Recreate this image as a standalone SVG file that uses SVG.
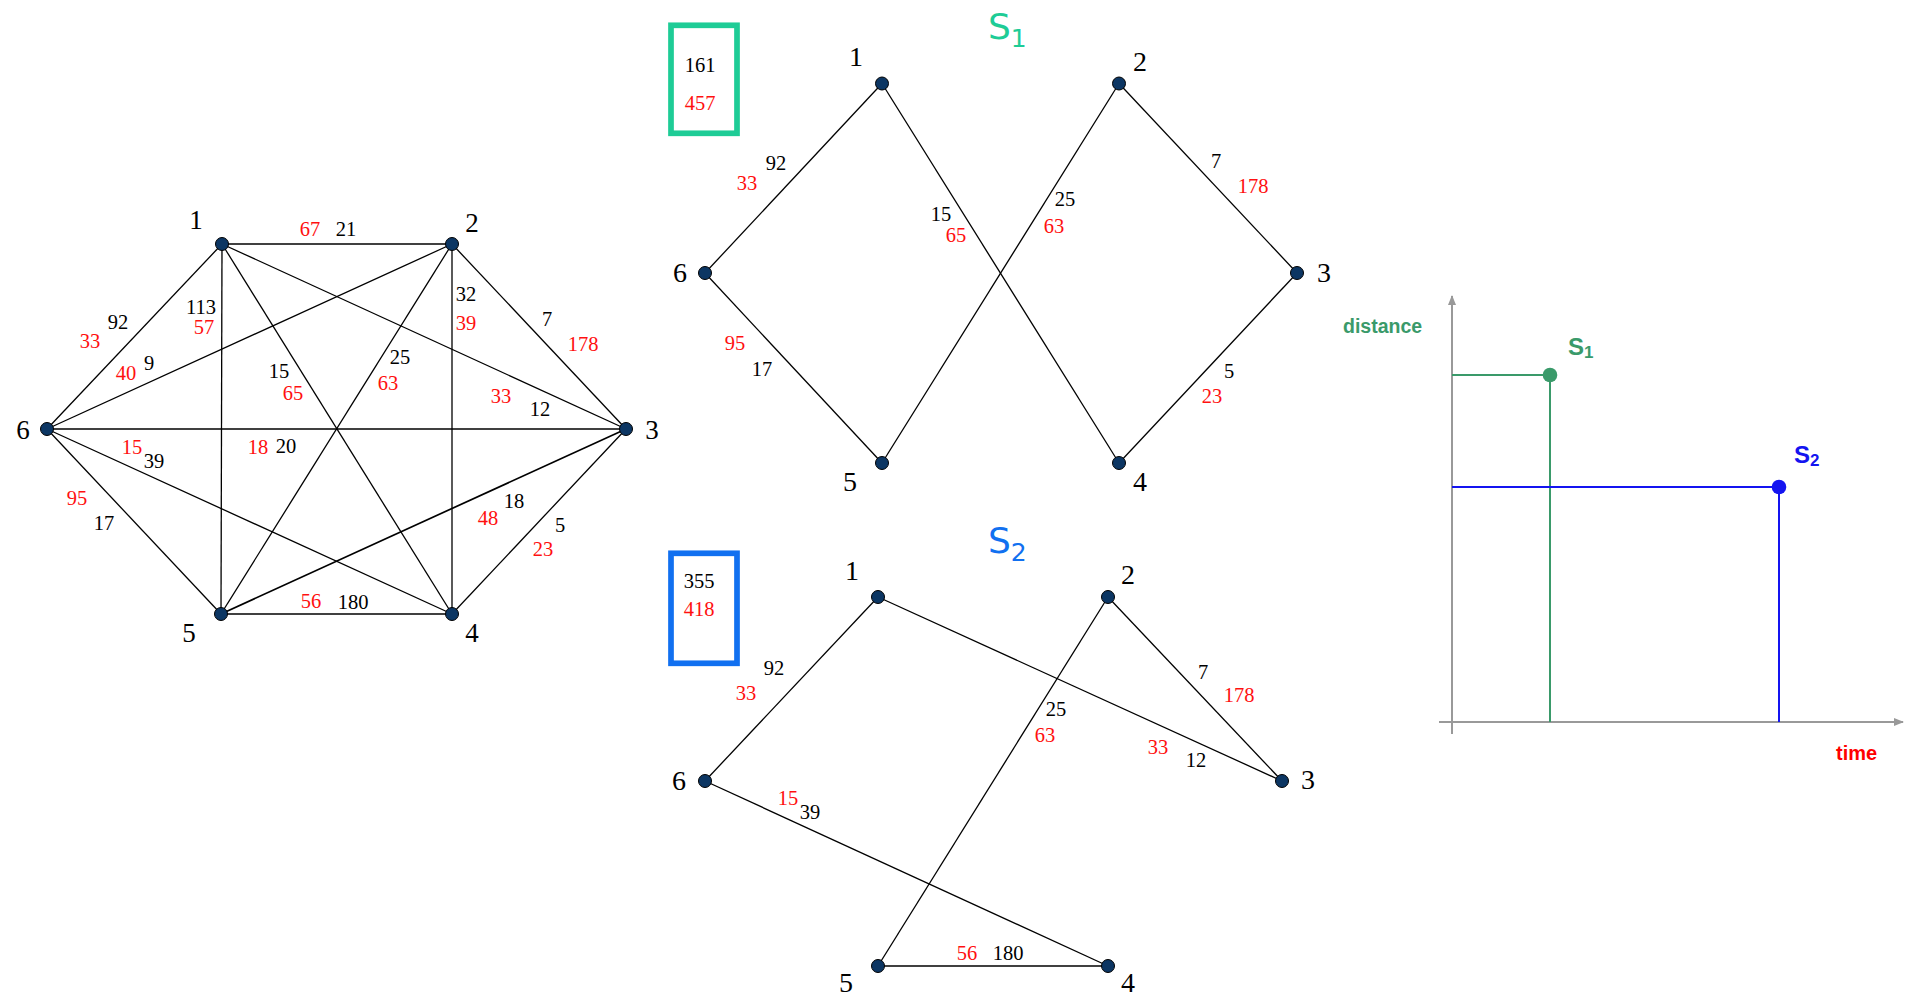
<svg xmlns="http://www.w3.org/2000/svg" width="1905" height="995" viewBox="0 0 1905 995">
<style>
.e{stroke:#000;stroke-width:1.3;fill:none}
.n{fill:#0c3663;stroke:#000;stroke-width:1}
.nl{font-family:"Liberation Serif",serif;font-size:27px;fill:#000;text-anchor:middle}
.nm{font-family:"Liberation Serif",serif;font-size:28px;fill:#000;text-anchor:middle}
.w{font-family:"Liberation Serif",serif;font-size:20.5px;fill:#000;text-anchor:middle}
.r{fill:#ff1010}
.ax{stroke:#999;stroke-width:2;fill:none}
.ttl{font-family:"DejaVu Sans",sans-serif;font-size:36px}
.cb{font-family:"Liberation Sans",Arial,sans-serif;font-weight:bold}
</style>
<defs>
<marker id="ah" markerWidth="10" markerHeight="10" refX="9" refY="5" orient="auto" markerUnits="userSpaceOnUse">
<path d="M0,1 L10,5 L0,9 Z" fill="#999"/>
</marker>
</defs>
<rect width="1905" height="995" fill="#fff"/>

<!-- ===== Left complete graph ===== -->
<g id="g0-edges">
<line class="e" x1="222" y1="244" x2="452" y2="244"/>
<line class="e" x1="222" y1="244" x2="47" y2="429"/>
<line class="e" x1="222" y1="244" x2="221" y2="614"/>
<line class="e" x1="222" y1="244" x2="452" y2="614"/>
<line class="e" x1="222" y1="244" x2="626" y2="429"/>
<line class="e" x1="452" y1="244" x2="47" y2="429"/>
<line class="e" x1="452" y1="244" x2="221" y2="614"/>
<line class="e" x1="452" y1="244" x2="452" y2="614"/>
<line class="e" x1="452" y1="244" x2="626" y2="429"/>
<line class="e" x1="47" y1="429" x2="626" y2="429"/>
<line class="e" x1="47" y1="429" x2="221" y2="614"/>
<line class="e" x1="47" y1="429" x2="452" y2="614"/>
<line class="e" x1="626" y1="429" x2="221" y2="614" style="stroke-width:1.7"/>
<line class="e" x1="626" y1="429" x2="452" y2="614"/>
<line class="e" x1="221" y1="614" x2="452" y2="614"/>
</g>
<g id="g0-weights">
<text class="w r" x="310" y="236">67</text><text class="w" x="346" y="236">21</text>
<text class="w" x="118" y="329">92</text><text class="w r" x="90" y="348">33</text>
<text class="w" x="201" y="314">113</text><text class="w r" x="204" y="334">57</text>
<text class="w r" x="126" y="380">40</text><text class="w" x="149" y="370">9</text>
<text class="w" x="466" y="301">32</text><text class="w r" x="466" y="330">39</text>
<text class="w" x="547" y="326">7</text><text class="w r" x="583" y="351">178</text>
<text class="w" x="279" y="378">15</text><text class="w r" x="293" y="400">65</text>
<text class="w" x="400" y="364">25</text><text class="w r" x="388" y="390">63</text>
<text class="w r" x="501" y="403">33</text><text class="w" x="540" y="416">12</text>
<text class="w r" x="132" y="454">15</text><text class="w" x="154" y="468">39</text>
<text class="w r" x="258" y="454">18</text><text class="w" x="286" y="453">20</text>
<text class="w r" x="77" y="505">95</text><text class="w" x="104" y="530">17</text>
<text class="w" x="514" y="508">18</text><text class="w r" x="488" y="525">48</text>
<text class="w" x="560" y="532">5</text><text class="w r" x="543" y="556">23</text>
<text class="w r" x="311" y="608">56</text><text class="w" x="353" y="609">180</text>
</g>
<g id="g0-n1"><circle class="n" cx="222" cy="244" r="6.5"/><text class="nl" x="196" y="229">1</text></g>
<g id="g0-n2"><circle class="n" cx="452" cy="244" r="6.5"/><text class="nl" x="472" y="232">2</text></g>
<g id="g0-n3"><circle class="n" cx="626" cy="429" r="6.5"/><text class="nl" x="652" y="439">3</text></g>
<g id="g0-n4"><circle class="n" cx="452" cy="614" r="6.5"/><text class="nl" x="472" y="642">4</text></g>
<g id="g0-n5"><circle class="n" cx="221" cy="614" r="6.5"/><text class="nl" x="189" y="642">5</text></g>
<g id="g0-n6"><circle class="n" cx="47" cy="429" r="6.5"/><text class="nl" x="23" y="439">6</text></g>

<!-- ===== S1 ===== -->
<g id="s1-title"><text class="ttl" x="988" y="39" fill="#1ecc96">S<tspan font-size="25" dy="8">1</tspan></text></g>
<g id="s1-box">
<rect x="671" y="25.3" width="66" height="108" fill="none" stroke="#1ecc96" stroke-width="5.7"/>
<text class="w" x="700" y="72">161</text>
<text class="w r" x="700" y="110">457</text>
</g>
<g id="s1-edges">
<line class="e" x1="882" y1="83.5" x2="705" y2="273"/>
<line class="e" x1="882" y1="83.5" x2="1119" y2="463"/>
<line class="e" x1="1119" y1="83.5" x2="882" y2="463"/>
<line class="e" x1="1119" y1="83.5" x2="1297" y2="273"/>
<line class="e" x1="705" y1="273" x2="882" y2="463"/>
<line class="e" x1="1297" y1="273" x2="1119" y2="463"/>
</g>
<g id="s1-weights">
<text class="w" x="776" y="170">92</text><text class="w r" x="747" y="190">33</text>
<text class="w" x="941" y="221">15</text><text class="w r" x="956" y="242">65</text>
<text class="w" x="1065" y="206">25</text><text class="w r" x="1054" y="233">63</text>
<text class="w" x="1216" y="168">7</text><text class="w r" x="1253" y="193">178</text>
<text class="w r" x="735" y="350">95</text><text class="w" x="762" y="376">17</text>
<text class="w" x="1229" y="378">5</text><text class="w r" x="1212" y="403">23</text>
</g>
<g id="s1-n1"><circle class="n" cx="882" cy="83.5" r="6.5"/><text class="nm" x="856" y="66">1</text></g>
<g id="s1-n2"><circle class="n" cx="1119" cy="83.5" r="6.5"/><text class="nm" x="1140" y="71">2</text></g>
<g id="s1-n3"><circle class="n" cx="1297" cy="273" r="6.5"/><text class="nm" x="1324" y="282">3</text></g>
<g id="s1-n4"><circle class="n" cx="1119" cy="463" r="6.5"/><text class="nm" x="1140" y="491">4</text></g>
<g id="s1-n5"><circle class="n" cx="882" cy="463" r="6.5"/><text class="nm" x="850" y="491">5</text></g>
<g id="s1-n6"><circle class="n" cx="705" cy="273" r="6.5"/><text class="nm" x="680" y="282">6</text></g>

<!-- ===== S2 ===== -->
<g id="s2-title"><text class="ttl" x="988" y="553" fill="#1170f0">S<tspan font-size="25" dy="8">2</tspan></text></g>
<g id="s2-box">
<rect x="671" y="553.3" width="66" height="110" fill="none" stroke="#1170f0" stroke-width="5.7"/>
<text class="w" x="699" y="588">355</text>
<text class="w r" x="699" y="616">418</text>
</g>
<g id="s2-edges">
<line class="e" x1="878" y1="597" x2="705" y2="781"/>
<line class="e" x1="878" y1="597" x2="1282" y2="781"/>
<line class="e" x1="1108" y1="597" x2="1282" y2="781"/>
<line class="e" x1="1108" y1="597" x2="878" y2="966"/>
<line class="e" x1="705" y1="781" x2="1108" y2="966"/>
<line class="e" x1="878" y1="966" x2="1108" y2="966"/>
</g>
<g id="s2-weights">
<text class="w" x="774" y="675">92</text><text class="w r" x="746" y="700">33</text>
<text class="w" x="1056" y="716">25</text><text class="w r" x="1045" y="742">63</text>
<text class="w" x="1203" y="679">7</text><text class="w r" x="1239" y="702">178</text>
<text class="w r" x="1158" y="754">33</text><text class="w" x="1196" y="767">12</text>
<text class="w r" x="788" y="805">15</text><text class="w" x="810" y="819">39</text>
<text class="w r" x="967" y="960">56</text><text class="w" x="1008" y="960">180</text>
</g>
<g id="s2-n1"><circle class="n" cx="878" cy="597" r="6.5"/><text class="nm" x="852" y="580">1</text></g>
<g id="s2-n2"><circle class="n" cx="1108" cy="597" r="6.5"/><text class="nm" x="1128" y="584">2</text></g>
<g id="s2-n3"><circle class="n" cx="1282" cy="781" r="6.5"/><text class="nm" x="1308" y="789">3</text></g>
<g id="s2-n4"><circle class="n" cx="1108" cy="966" r="6.5"/><text class="nm" x="1128" y="992">4</text></g>
<g id="s2-n5"><circle class="n" cx="878" cy="966" r="6.5"/><text class="nm" x="846" y="992">5</text></g>
<g id="s2-n6"><circle class="n" cx="705" cy="781" r="6.5"/><text class="nm" x="679" y="790">6</text></g>

<!-- ===== Chart ===== -->
<g id="chart-axes">
<line class="ax" x1="1452" y1="734" x2="1452" y2="296" marker-end="url(#ah)"/>
<line class="ax" x1="1439" y1="722" x2="1903" y2="722" marker-end="url(#ah)"/>
</g>
<g id="chart-s1">
<polyline points="1452,375 1550,375 1550,722" fill="none" stroke="#3a9a6a" stroke-width="2"/>
<circle cx="1550" cy="375" r="7.3" fill="#3a9a6a"/>
<text class="cb" x="1568" y="355" font-size="24" fill="#3a9a6a">S<tspan font-size="17" dy="3">1</tspan></text>
</g>
<g id="chart-s2">
<polyline points="1452,487 1779,487 1779,722" fill="none" stroke="#1414f0" stroke-width="2"/>
<circle cx="1779" cy="487" r="7.3" fill="#1414f0"/>
<text class="cb" x="1794" y="463" font-size="24" fill="#1414f0">S<tspan font-size="17" dy="3">2</tspan></text>
</g>
<g id="chart-labels">
<text class="cb" x="1343" y="333" font-size="19.5" fill="#3a9a6a">distance</text>
<text class="cb" x="1836" y="760" font-size="20" fill="#ff0000">time</text>
</g>
</svg>
